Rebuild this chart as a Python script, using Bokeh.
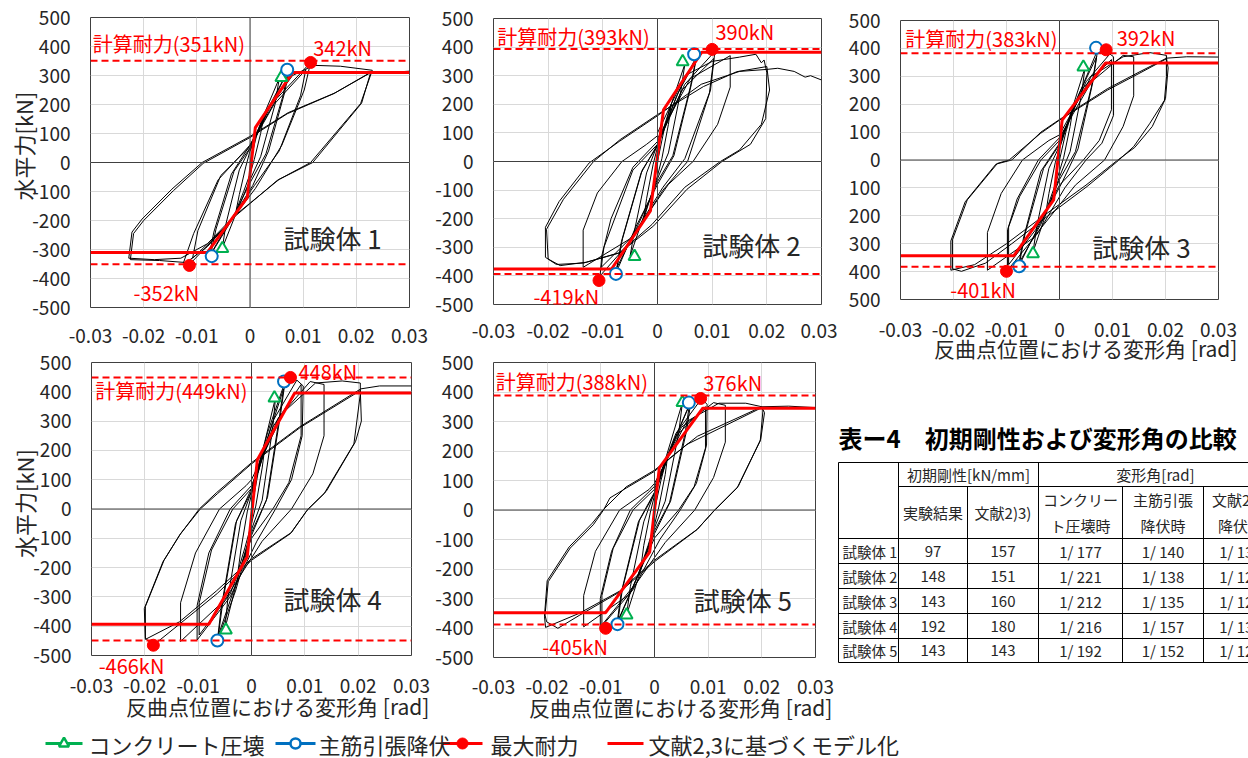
import math
from bokeh.plotting import figure
from bokeh.models import Range1d, FixedTicker, CustomJSTickFormatter, Label, Span, LinearAxis
from bokeh.layouts import row, column
from bokeh.embed import file_html
from bokeh.resources import INLINE
from bokeh.core.properties import value

FONT = "Noto Sans CJK JP"

# ---------------- data ----------------
x_ticks = [-0.03, -0.02, -0.01, 0, 0.01, 0.02, 0.03]
y_ticks = [-500, -400, -300, -200, -100, 0, 100, 200, 300, 400, 500]

specimen_names = ["試験体 1", "試験体 2", "試験体 3", "試験体 4", "試験体 5"]
calc_strength = [351, 393, 383, 449, 388]
max_pos_label = ["342kN", "390kN", "392kN", "448kN", "376kN"]
max_neg_label = ["-352kN", "-419kN", "-401kN", "-466kN", "-405kN"]
y_title = "水平力[kN]"
x_title = "反曲点位置における変形角 [rad]"

# model lines (literature 2,3)
model1_x = [-0.03, -0.008, -0.0005, 0.001, 0.008, 0.03]
model1_y = [-310, -310, -120, 120, 310, 310]
model2_x = [-0.03, -0.0084, -0.0013, 0.0011, 0.0081, 0.03]
model2_y = [-376, -376, -173, 181, 382, 382]
model3_x = [-0.03, -0.0086, -0.0011, 0.0005, 0.0087, 0.03]
model3_y = [-343, -343, -143, 143, 348, 348]
model4_x = [-0.03, -0.008, -0.0008, 0.0011, 0.0081, 0.03]
model4_y = [-393, -393, -163, 168, 396, 396]
model5_x = [-0.03, -0.0091, -0.0009, 0.0009, 0.009, 0.03]
model5_y = [-348, -348, -143, 143, 345, 345]

# concrete crushing points
crush1_x = [0.0059, -0.0052]; crush1_y = [293, -297]
crush2_x = [0.0046, -0.0042]; crush2_y = [349, -332]
crush3_x = [0.0045, -0.0050]; crush3_y = [333, -336]
crush4_x = [0.0043, -0.0048]; crush4_y = [379, -413]
crush5_x = [0.0052, -0.0052]; crush5_y = [364, -356]
# main bar yielding points
yield1_x = [0.0070, -0.0072]; yield1_y = [320, -323]
yield2_x = [0.0067, -0.0076]; yield2_y = [375, -393]
yield3_x = [0.0069, -0.0076]; yield3_y = [402, -381]
yield4_x = [0.0061, -0.0064]; yield4_y = [435, -449]
yield5_x = [0.0064, -0.0069]; yield5_y = [364, -387]
# maximum strength points
max1_x = [0.0114, -0.0114]; max1_y = [345, -355]
max2_x = [0.0100, -0.0107]; max2_y = [392, -416]
max3_x = [0.0088, -0.0100]; max3_y = [395, -399]
max4_x = [0.0073, -0.0184]; max4_y = [449, -465]
max5_x = [0.0086, -0.0091]; max5_y = [378, -401]

# hysteresis loops
loops1_x = [
    [0, 0.0012, 0.0026, 0.002, 0.0008, 0, -0.0012, -0.0026, -0.002, -0.0008, 0],
    [0, 0.0025, 0.0055, 0.0047, 0.002, 0, -0.0025, -0.0052, -0.0045, -0.002, 0],
    [0, 0.0035, 0.0072, 0.0062, 0.003, 0, -0.0035, -0.0074, -0.0064, -0.003, 0],
    [0, 0.004, 0.0075, 0.0065, 0.0035, 0.0005, -0.004, -0.0077, -0.0068, -0.0035, 0],
    [0, 0.0045, 0.0105, 0.0095, 0.0055, 0.0008, -0.0045, -0.0108, -0.0098, -0.0055, 0],
    [0, 0.005, 0.0114, 0.0102, 0.006, 0.001, -0.004, -0.0114, -0.0125, -0.0106, -0.006, -0.001, 0],
    [0, 0.004, 0.008, 0.012, 0.017, 0.023, 0.0208, 0.0114, 0.0051, -0.0031, -0.008, -0.012, -0.017,
     -0.0225, -0.0219, -0.02, -0.0144, -0.0088, 0, 0.007, 0.0157, 0.0227, 0.021, 0.0118, 0.0055,
     -0.003, -0.008, -0.013, -0.018, -0.0228, -0.0222, -0.0203, -0.0147, -0.009, 0, 0.0072, 0.016,
     0.023, 0.026, 0.03],
]
loops1_y = [
    [0, 90, 160, 100, 10, -40, -100, -165, -110, -15, 40],
    [40, 160, 290, 200, 20, -60, -170, -295, -210, -25, 50],
    [40, 190, 318, 230, 30, -70, -200, -318, -230, -30, 50],
    [50, 200, 330, 240, 40, -80, -210, -325, -240, -40, 60],
    [55, 200, 320, 230, 40, -80, -220, -330, -235, -45, 55],
    [60, 220, 345, 250, 60, -90, -210, -352, -345, -245, -60, 40, 60],
    [60, 200, 300, 335, 332, 318, 203, 0, -62, -190, -290, -345, -338, -335, -245, -200, -97, -3,
     86, 168, 237, 311, 205, 0, -58, -185, -280, -330, -335, -330, -240, -195, -92, 0, 90, 172, 240,
     313, 310, 315],
]

loops2_x = [
    [0, 0.0012, 0.0025, 0.002, 0.0008, 0, -0.0012, -0.0025, -0.002, -0.0008, 0],
    [0, 0.0025, 0.005, 0.0043, 0.002, 0, -0.0025, -0.005, -0.0043, -0.002, 0],
    [0, 0.0035, 0.007, 0.006, 0.0028, 0, -0.0035, -0.0074, -0.0064, -0.0028, 0],
    [0, 0.004, 0.0072, 0.0062, 0.003, 0, -0.004, -0.0076, -0.0066, -0.003, 0],
    [0, 0.0045, 0.0103, 0.0095, 0.005, 0.001, -0.0045, -0.0103, -0.0098, -0.0045, 0],
    [0, 0.005, 0.0105, 0.0097, 0.0055, 0.001, -0.005, -0.0105, -0.0102, -0.0085, -0.0045, 0],
    [0, 0.006, 0.0133, 0.0133, 0.011, 0.0065, 0.002, -0.005, -0.0136, -0.0136, -0.011, -0.0065, -0.002, 0],
    [0, 0.005, 0.01, 0.015, 0.018, 0.019, 0.0195, 0.02, 0.0198, 0.017, 0.0118, 0.0054, -0.0007,
     -0.0068, -0.013, -0.0178, -0.02, -0.0203, -0.0172, -0.0117, -0.0068, 0, 0.0084, 0.0145, 0.02,
     0.0205, 0.019, 0.015, 0.0115, 0.005, -0.001, -0.007, -0.0135, -0.0185, -0.0205, -0.0205, -0.018,
     -0.0125, -0.007, 0, 0.008, 0.015, 0.02, 0.022, 0.025, 0.027, 0.028, 0.03],
]
loops2_y = [
    [0, 110, 200, 130, 10, -50, -120, -200, -130, -10, 50],
    [50, 200, 340, 250, 30, -60, -190, -330, -250, -40, 60],
    [50, 230, 355, 260, 20, -70, -220, -370, -270, -30, 55],
    [60, 250, 370, 270, 20, -80, -230, -390, -280, -40, 60],
    [60, 250, 360, 240, 10, -90, -260, -370, -300, -30, 60],
    [70, 270, 385, 250, 0, -100, -280, -400, -330, -200, -20, 70],
    [80, 290, 370, 260, 130, 0, -80, -270, -370, -240, -110, 0, 60, 90],
    [100, 300, 350, 365, 375, 345, 355, 310, 150, 60, 0, -97, -225, -318, -352, -364, -341, -237,
     -132, 0, 77, 164, 262, 314, 332, 250, 130, 40, 0, -90, -220, -320, -355, -360, -335, -230, -140,
     -5, 70, 160, 270, 315, 322, 326, 315, 295, 300, 285],
]

loops3_x = [
    [0, 0.0012, 0.0025, 0.002, 0.0008, 0, -0.0012, -0.0025, -0.002, -0.0008, 0],
    [0, 0.0025, 0.0048, 0.0042, 0.002, 0, -0.0025, -0.005, -0.0043, -0.002, 0],
    [0, 0.0035, 0.007, 0.006, 0.003, 0, -0.0035, -0.0075, -0.0065, -0.003, 0],
    [0, 0.004, 0.0072, 0.0063, 0.0035, 0.0005, -0.004, -0.0078, -0.0068, -0.0035, 0],
    [0, 0.0045, 0.0098, 0.0098, 0.0075, 0.0045, 0, -0.0045, -0.0096, -0.0096, -0.0075, -0.0035, 0],
    [0, 0.005, 0.0095, 0.0102, 0.0102, 0.008, 0.005, 0.001, -0.004, -0.0098, -0.0098, -0.008, -0.004, 0],
    [0, 0.006, 0.012, 0.014, 0.014, 0.012, 0.0085, 0.003, -0.005, -0.0136, -0.0136, -0.011, -0.007, -0.002, 0],
    [0, 0.006, 0.012, 0.017, 0.0202, 0.0202, 0.0198, 0.017, 0.014, 0.0108, 0.0052, -0.0023, -0.009,
     -0.014, -0.0185, -0.0202, -0.0202, -0.0174, -0.0117, -0.0095, -0.0036, 0, 0.009, 0.015, 0.0202,
     0.0205, 0.02, 0.0175, 0.0142, 0.011, 0.005, -0.003, -0.01, -0.016, -0.0205, -0.0205, -0.0178,
     -0.012, -0.009, -0.0035, 0, 0.009, 0.015, 0.0202, 0.024, 0.03],
]
loops3_y = [
    [0, 100, 180, 120, 10, -40, -110, -180, -120, -10, 40],
    [40, 190, 330, 240, 30, -60, -190, -330, -240, -30, 50],
    [50, 230, 370, 260, 30, -70, -230, -365, -265, -30, 55],
    [60, 250, 395, 280, 40, -80, -240, -385, -280, -40, 60],
    [60, 260, 360, 180, 70, 0, -90, -250, -375, -240, -130, 0, 70],
    [70, 280, 380, 370, 160, 60, 0, -100, -260, -395, -250, -140, 0, 80],
    [80, 280, 375, 370, 230, 120, 0, -90, -280, -395, -260, -120, 0, 70, 90],
    [90, 300, 370, 385, 375, 300, 214, 130, 48, -7, -95, -202, -300, -370, -399, -390, -286, -143,
     -12, 0, 95, 143, 250, 310, 363, 330, 220, 120, 45, 0, -90, -200, -300, -375, -395, -290, -150,
     -15, 0, 100, 145, 255, 315, 365, 370, 369],
]

loops4_x = [
    [0, 0.0012, 0.0025, 0.002, 0.0008, 0, -0.0012, -0.0025, -0.002, -0.0008, 0],
    [0, 0.0025, 0.0045, 0.004, 0.002, 0, -0.0025, -0.005, -0.0044, -0.002, 0],
    [0, 0.003, 0.006, 0.0052, 0.0028, 0, -0.003, -0.0062, -0.0054, -0.0028, 0],
    [0, 0.003, 0.0063, 0.0055, 0.003, 0, -0.003, -0.0064, -0.0057, -0.003, 0],
    [0, 0.004, 0.0093, 0.0093, 0.007, 0.004, 0, -0.004, -0.0098, -0.0098, -0.0075, -0.0035, 0],
    [0, 0.004, 0.0085, 0.0097, 0.0095, 0.0075, 0.0045, 0.001, -0.004, -0.0102, -0.0102, -0.008, -0.004, 0],
    [0, 0.005, 0.011, 0.0136, 0.0136, 0.0115, 0.0075, 0.002, -0.005, -0.0133, -0.0133, -0.0105, -0.006, -0.001, 0],
    [0, 0.006, 0.012, 0.017, 0.0204, 0.0204, 0.0192, 0.0136, 0.0104, 0.0073, 0, -0.0064, -0.0133,
     -0.0184, -0.0199, -0.0199, -0.0164, -0.0133, -0.0096, -0.0064, 0, 0.0092, 0.0204, 0.0206,
     0.0195, 0.014, 0.0106, 0.0075, 0, -0.0066, -0.0135, -0.0199, -0.0201, -0.0166, -0.0135,
     -0.0098, -0.0066, 0, 0.009, 0.0205, 0.024, 0.03],
]
loops4_y = [
    [0, 120, 210, 140, 10, -50, -130, -210, -140, -10, 50],
    [50, 230, 380, 280, 30, -70, -230, -410, -300, -40, 60],
    [50, 240, 410, 310, 30, -80, -260, -430, -320, -40, 60],
    [60, 260, 435, 330, 40, -90, -280, -449, -340, -50, 70],
    [60, 280, 425, 250, 90, 0, -100, -290, -430, -320, -140, 0, 70],
    [70, 300, 440, 420, 250, 100, 0, -110, -300, -447, -330, -150, 0, 80],
    [80, 310, 435, 425, 250, 120, 0, -110, -310, -452, -320, -150, 0, 80, 100],
    [100, 330, 430, 437, 430, 392, 222, 52, -5, -84, -175, -288, -390, -465, -441, -333, -175, -84,
     0, 52, 154, 279, 404, 300, 230, 60, 0, -80, -170, -280, -385, -445, -340, -180, -90, 0, 55, 158,
     280, 410, 420, 420],
]

loops5_x = [
    [0, 0.0012, 0.0025, 0.002, 0.0008, 0, -0.0012, -0.0025, -0.002, -0.0008, 0],
    [0, 0.0025, 0.0052, 0.0045, 0.002, 0, -0.0025, -0.0052, -0.0045, -0.002, 0],
    [0, 0.0033, 0.0065, 0.0057, 0.0028, 0, -0.0033, -0.0068, -0.006, -0.0028, 0],
    [0, 0.0035, 0.0068, 0.006, 0.003, 0, -0.0035, -0.007, -0.0062, -0.003, 0],
    [0, 0.004, 0.0095, 0.0095, 0.0074, 0.0045, 0, -0.004, -0.0098, -0.0098, -0.0077, -0.004, 0],
    [0, 0.004, 0.0088, 0.0098, 0.0097, 0.0078, 0.0048, 0.001, -0.004, -0.0101, -0.0101, -0.008, -0.0045, 0],
    [0, 0.005, 0.011, 0.0132, 0.0132, 0.011, 0.0075, 0.002, -0.005, -0.0132, -0.0132, -0.011, -0.0065, -0.001, 0],
    [0, 0.006, 0.012, 0.017, 0.02, 0.0202, 0.0197, 0.0154, 0.011, 0.0079, 0, -0.0064, -0.0139,
     -0.018, -0.0201, -0.0204, -0.0198, -0.0157, -0.0114, -0.0095, -0.0083, -0.0052, 0, 0.006, 0.02,
     0.0205, 0.0198, 0.0156, 0.0112, 0.008, 0, -0.0065, -0.014, -0.0203, -0.0205, -0.02, -0.0159,
     -0.0116, -0.0096, -0.0053, 0, 0.008, 0.02, 0.025, 0.03],
]
loops5_y = [
    [0, 100, 190, 120, 10, -50, -120, -190, -120, -10, 50],
    [50, 200, 364, 260, 30, -60, -200, -356, -260, -40, 60],
    [50, 220, 355, 260, 25, -70, -230, -375, -270, -35, 55],
    [60, 230, 370, 270, 30, -80, -240, -387, -280, -40, 60],
    [60, 250, 350, 210, 80, 0, -95, -260, -390, -290, -130, 0, 70],
    [70, 260, 378, 358, 220, 90, 0, -100, -270, -400, -300, -140, 0, 80],
    [80, 280, 364, 355, 230, 110, 0, -110, -290, -396, -290, -140, 0, 70, 90],
    [90, 300, 362, 362, 350, 336, 234, 75, -5, -67, -175, -277, -356, -401, -379, -356, -243, -129,
     -50, 0, 41, 75, 131, 222, 347, 330, 240, 80, 0, -65, -170, -275, -350, -398, -360, -240, -125,
     -45, 0, 78, 135, 250, 350, 352, 347],
]

# table
table_title = "表ー4　初期剛性および変形角の比較"
table_rows = ["試験体 1", "試験体 2", "試験体 3", "試験体 4", "試験体 5"]
stiff_exp = [97, 148, 143, 192, 143]
stiff_ref = [157, 151, 160, 180, 143]
angle_crush = ["1/ 177", "1/ 221", "1/ 212", "1/ 216", "1/ 192"]
angle_yield = ["1/ 140", "1/ 138", "1/ 135", "1/ 157", "1/ 152"]
angle_ref_yield = ["1/ 131", "1/ 126", "1/ 127", "1/ 131", "1/ 126"]
table_head = ["初期剛性[kN/mm]", "変形角[rad]", "実験結果", "文献2)3)", "コンクリー", "ト圧壊時",
              "主筋引張", "降伏時", "文献2)3)", "降伏時"]

legend_labels = ["コンクリート圧壊", "主筋引張降伏", "最大耐力", "文献2,3に基づくモデル化"]

# ---------------- styles ----------------
RED = "#ff0000"
GREEN = "#00b050"
BLUE = "#0070c0"
TXT = "#262626"


def style_axis(ax, size="19px"):
    ax.major_tick_out = 0
    ax.major_tick_in = 0
    ax.minor_tick_out = 0
    ax.minor_tick_in = 0
    ax.axis_line_color = None
    ax.major_label_text_font = FONT
    ax.major_label_text_font_size = size
    ax.major_label_text_color = TXT
    ax.axis_label_text_font = FONT
    ax.axis_label_text_font_style = "normal"
    ax.axis_label_text_color = TXT


def panel(idx, lx, ly, mx, my, cx, cy, yx, yy, xx, xy, L):
    p = figure(width=L["w"], height=L["h"], x_range=Range1d(-0.03, 0.03),
               y_range=Range1d(-500, 500), output_backend="svg", toolbar_location=None,
               title=None, min_border_left=L["bl"], min_border_right=L["br"],
               min_border_top=L["bt"], min_border_bottom=L["bb"], frame_align=False)
    p.background_fill_color = "white"
    p.border_fill_color = "white"
    p.outline_line_color = "#404040"
    p.outline_line_width = 1
    style_axis(p.xaxis[0])
    style_axis(p.yaxis[0])
    p.xaxis.ticker = FixedTicker(ticks=x_ticks)
    p.yaxis.ticker = FixedTicker(ticks=y_ticks)
    p.xaxis.formatter = CustomJSTickFormatter(
        code="return Math.abs(tick) < 1e-9 ? '0' : tick.toFixed(2);")
    if L.get("abs_y"):
        p.yaxis.formatter = CustomJSTickFormatter(code="return Math.abs(tick).toFixed(0);")
    else:
        p.yaxis.formatter = CustomJSTickFormatter(code="return tick.toFixed(0);")
    p.xaxis.major_label_standoff = L["xs"]
    p.yaxis.major_label_standoff = 20
    if L.get("ytitle"):
        p.yaxis.axis_label = L["ytitle"] + y_title
        p.yaxis.axis_label_text_font_size = "22px"
        p.yaxis.axis_label_standoff = -10
    if L.get("xtitle"):
        p.xaxis.axis_label = "\u3000\u3000\u2002" + x_title
        p.xaxis.axis_label_text_font_size = "21px"
        p.xaxis.axis_label_standoff = L["xts"]
    if L.get("below_neg"):
        extra = LinearAxis(ticker=FixedTicker(ticks=[L["below_neg"]]),
                           formatter=CustomJSTickFormatter(
                               code="return %r;" % max_neg_label[idx]))
        style_axis(extra, "20px")
        extra.major_label_text_color = RED
        extra.major_label_standoff = L["ns"]
        p.below = [extra] + list(p.below)

    p.xgrid.grid_line_color = "#d9d9d9"
    p.ygrid.grid_line_color = "#d9d9d9"

    p.add_layout(Span(location=0, dimension="width", line_color="#404040", line_width=1))
    p.add_layout(Span(location=0, dimension="height", line_color="#404040", line_width=1))

    p.multi_line(xs=lx, ys=ly, line_color="black", line_width=1)

    c = calc_strength[idx]
    for loc in (c, -c):
        p.add_layout(Span(location=loc, dimension="width", line_color=RED,
                          line_width=2, line_dash="7 4"))
    p.line(mx, my, line_color=RED, line_width=3)
    p.scatter(cx, cy, marker="triangle", size=12, line_color=GREEN, fill_color="white",
              line_width=2)
    p.scatter(yx, yy, marker="circle", size=12, line_color=BLUE, fill_color="white",
              line_width=2)
    p.scatter(xx, xy, marker="circle", size=12, line_color=RED, fill_color=RED)

    def lab(pos, text, size, color):
        p.add_layout(Label(x=pos[0], y=pos[1], text=text, text_font=FONT,
                           text_font_size=size, text_color=color, text_align="left",
                           text_baseline="middle"))

    lab(L["calc"], "計算耐力(%dkN)" % c, "20px", RED)
    lab(L["maxp"], max_pos_label[idx], "20px", RED)
    if L.get("maxn"):
        lab(L["maxn"], max_neg_label[idx], "20px", RED)
    lab(L["name"], specimen_names[idx], "26px", TXT)
    return p


# canvas origin is the page's top-left corner
L1 = dict(w=432, h=347, bl=90, br=23, bt=17, bb=40, xs=21,
          calc=(-0.0296, 410), maxp=(0.0119, 397), maxn=(-0.0219, -448),
          name=(0.0063, -259), ytitle="\u3000\u2002")
L2 = dict(w=405, h=347, bl=61, br=16, bt=18, bb=43, xs=19,
          calc=(-0.0293, 437), maxp=(0.0106, 455), maxn=(-0.0227, -472),
          name=(0.0082, -290))
L3 = dict(w=411, h=365, bl=63, br=30, bt=20, bb=65, xs=23, abs_y=True, xts=-7,
          calc=(-0.0291, 436), maxp=(0.0108, 439), maxn=(-0.0206, -464),
          name=(0.0062, -311), xtitle=True)
L4 = dict(w=432, h=377, bl=91, br=21, bt=15, bb=69, xs=-4, xts=-5,
          calc=(-0.0293, 406), maxp=(0.0088, 468), below_neg=-0.0225, ns=-5,
          name=(0.006, -304), ytitle="\u2002", xtitle=True)
L5 = dict(w=405, h=377, bl=61, br=22, bt=15, bb=67, xs=22, xts=-5,
          calc=(-0.0296, 435), maxp=(0.0091, 432), maxn=(-0.0209, -463),
          name=(0.0073, -303), xtitle=True)

p1 = panel(0, loops1_x, loops1_y, model1_x, model1_y, crush1_x, crush1_y, yield1_x, yield1_y, max1_x, max1_y, L1)
p2 = panel(1, loops2_x, loops2_y, model2_x, model2_y, crush2_x, crush2_y, yield2_x, yield2_y, max2_x, max2_y, L2)
p3 = panel(2, loops3_x, loops3_y, model3_x, model3_y, crush3_x, crush3_y, yield3_x, yield3_y, max3_x, max3_y, L3)
p4 = panel(3, loops4_x, loops4_y, model4_x, model4_y, crush4_x, crush4_y, yield4_x, yield4_y, max4_x, max4_y, L4)
p5 = panel(4, loops5_x, loops5_y, model5_x, model5_y, crush5_x, crush5_y, yield5_x, yield5_y, max5_x, max5_y, L5)

# ---------------- table ----------------
TW, TH = 411, 359
t = figure(width=TW, height=TH, x_range=Range1d(0, TW), y_range=Range1d(TH, 0),
           x_axis_type=None, y_axis_type=None, min_border=0, title=None,
           output_backend="svg", toolbar_location=None, frame_align=False)
t.outline_line_color = None
t.background_fill_color = "white"
t.border_fill_color = "white"

col_edges = [1, 61, 130, 201, 285, 366]
col_centers = [95.5, 165.5, 243, 325.5, 403]
row_edges = [97, 121, 173, 198, 223, 248, 273, 297]

hx0 = [col_edges[0], col_edges[1]] + [col_edges[0]] * 6
hy = [row_edges[0], row_edges[1]] + row_edges[2:]
hx1 = [TW + 5] * len(hy)
t.segment(x0=hx0, y0=hy, x1=hx1, y1=hy, line_color="black", line_width=1)
vx = list(col_edges)
vy0 = [row_edges[0], row_edges[0], row_edges[1], row_edges[0], row_edges[1], row_edges[1]]
vy1 = [row_edges[-1]] * 6
t.segment(x0=vx, y0=vy0, x1=vx, y1=vy1, line_color="black", line_width=1)

t.text(x=[1], y=[72], text=[table_title], text_font=value(FONT), text_font_size="24px",
       text_font_style="bold", text_baseline="middle", text_align="left", text_color="black")

hdr_x = [(col_edges[1] + col_edges[3]) / 2, 318, col_centers[0], col_centers[1],
         col_centers[2], col_centers[2], col_centers[3], col_centers[3], col_centers[4], col_centers[4]]
hdr_y = [109, 109, 147, 147, 134, 160, 134, 160, 134, 160]
t.text(x=hdr_x, y=hdr_y, text=table_head, text_font=value(FONT), text_font_size="15px",
       text_baseline="middle", text_align="center", text_color=TXT)

row_mid = [(row_edges[i + 2] + row_edges[i + 3]) / 2 for i in range(5)]
t.text(x=[5] * 5, y=row_mid, text=table_rows, text_font=value(FONT), text_font_size="14.5px",
       text_baseline="middle", text_align="left", text_color=TXT)
cells = [[str(v) for v in stiff_exp], [str(v) for v in stiff_ref], angle_crush, angle_yield,
         angle_ref_yield]
cx_all, cy_all, ct_all = [], [], []
for ci, colvals in enumerate(cells):
    for ri, v in enumerate(colvals):
        cx_all.append(col_centers[ci])
        cy_all.append(row_mid[ri])
        ct_all.append(v)
t.text(x=cx_all, y=cy_all, text=ct_all, text_font=value(FONT), text_font_size="15px",
       text_baseline="middle", text_align="center", text_color=TXT)

# ---------------- legend ----------------
LW, LH = 1248, 34
lg = figure(width=LW, height=LH, x_range=Range1d(0, LW), y_range=Range1d(LH, 0),
            x_axis_type=None, y_axis_type=None, min_border=0, title=None,
            output_backend="svg", toolbar_location=None, frame_align=False)
lg.outline_line_color = None
ly_c = 19
seg_x0 = [45, 275, 442, 607]
seg_x1 = [82, 315, 482, 643]
txt_x = [88, 318, 490, 648]
lg.segment(x0=seg_x0, x1=seg_x1, y0=[ly_c] * 4, y1=[ly_c] * 4,
           line_color=[GREEN, BLUE, RED, RED], line_width=3)
lg.scatter([(seg_x0[0] + seg_x1[0]) / 2], [ly_c], marker="triangle", size=10,
           line_color=GREEN, fill_color="white", line_width=2.5)
lg.scatter([(seg_x0[1] + seg_x1[1]) / 2], [ly_c], marker="circle", size=10,
           line_color=BLUE, fill_color="white", line_width=2.5)
lg.scatter([(seg_x0[2] + seg_x1[2]) / 2], [ly_c], marker="circle", size=11,
           line_color=RED, fill_color=RED)
lg.text(x=txt_x, y=[ly_c] * 4, text=legend_labels, text_font=value(FONT),
        text_font_size="22px", text_baseline="middle", text_align="left", text_color=TXT)

layout = column(row(column(p1, p4), column(p2, p5), column(p3, t)), lg)

open("out.html", "w").write(file_html(layout, INLINE))
